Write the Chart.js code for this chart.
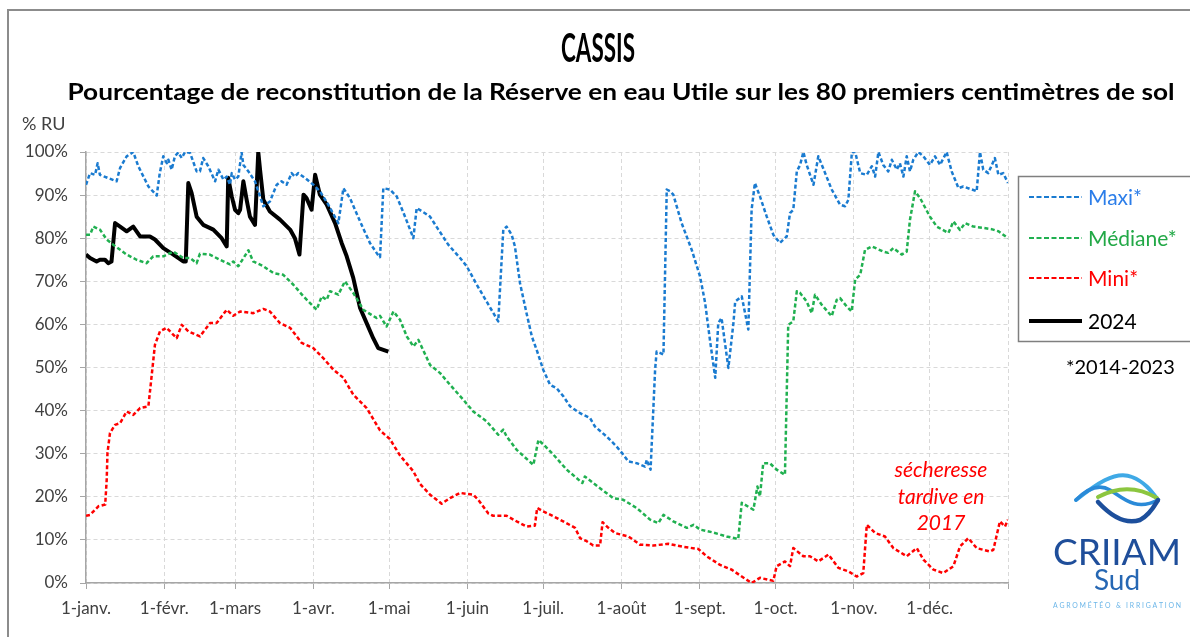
<!DOCTYPE html>
<html lang="fr">
<head>
<meta charset="utf-8">
<title>CASSIS - Réserve en eau Utile</title>
<script src="https://cdn.jsdelivr.net/npm/chart.js@4.4.1/dist/chart.umd.min.js"></script>
<style>
  html, body { margin: 0; padding: 0; background: #fff; }
  #wrap { width: 1190px; height: 637px; }
</style>
</head>
<body>
<div id="wrap"><canvas id="ruChart" width="1190" height="637"></canvas></div>
<script>
// Axes
const monthTicks = [0, 31, 59, 90, 120, 151, 181, 212, 243, 273, 304, 334, 365];
const monthLabels = ['1-janv.', '1-févr.', '1-mars', '1-avr.', '1-mai', '1-juin', '1-juil.', '1-août', '1-sept.', '1-oct.', '1-nov.', '1-déc.', ''];
const yTicks = [0, 10, 20, 30, 40, 50, 60, 70, 80, 90, 100];

// Séries : [jour de l'année, % RU]
const maxi = [[0,92.4],[1.6,95.1],[3.6,94.7],[4.6,97.4],[5.5,94.7],[12.1,93.2],[13.5,96.3],[16.1,99],[18.7,100],[20.7,96.7],[24.7,92],[28,89.9],[29.2,95.1],[30.6,99],[32,97.4],[32.6,98.2],[33.9,95.9],[35.2,99],[36.5,99.9],[37.9,98.6],[39.2,100],[41.2,99.8],[43.8,95.5],[45.1,95.5],[46.4,98.6],[48.4,96.7],[51.1,93.2],[52.4,95.9],[54.4,93.6],[55.7,94.3],[57,92.4],[57.7,95.1],[59,93.6],[60.3,94.3],[61.6,99.9],[62.3,97],[64.3,95.5],[66.9,93.2],[70.2,87.4],[72.8,88.5],[75.5,92.4],[77.4,93.2],[79.4,92.4],[81.4,95.1],[82.7,94.3],[84,95.1],[86.7,94],[90,92.4],[92.6,90.9],[95.9,87.8],[99.9,83.5],[101.9,91.6],[104.5,89.3],[106.5,86.6],[109.1,83.1],[112.4,78.9],[115.5,76.2],[116.4,75.6],[117.7,91.6],[120.3,91.3],[123,89.7],[126.3,85],[129.6,80],[130.9,87],[134.2,85.8],[136.2,85],[139.5,82],[143.4,78.5],[148.1,75.4],[150.7,73.5],[154.7,69.2],[158.6,65.3],[163.2,60.7],[165.2,82],[166.5,82.7],[168.5,80.8],[169.8,78.1],[171.8,69.6],[174.4,62.6],[176.5,57.2],[178.4,54.1],[181,49.5],[183.7,46],[186.3,45.2],[189,43.3],[191.6,41],[195.6,39.4],[199.5,38.3],[201.5,36.3],[206.1,34],[210,31.7],[212.7,29.8],[214.7,28.2],[218,27.8],[221.3,27],[222,28.6],[223.5,26.3],[225.3,49.5],[225.9,53.7],[227.2,53.4],[228.6,53],[229.9,91.3],[231.2,90.9],[232.5,90.1],[235.8,83.5],[239.8,77.3],[243.1,71.1],[245.1,65],[247,56.4],[249.1,47.6],[250.3,60.3],[251.6,61.5],[254.3,49.9],[256.3,60.3],[257,65.3],[259.6,66.5],[262.2,58.8],[263.5,86.6],[264.8,92.8],[266.8,89.7],[269.5,85],[272.1,80.8],[274.7,78.9],[277.4,80.4],[278.7,85.8],[280,86.6],[281.4,95.5],[282.7,97],[284,100],[285.3,97],[288,92.4],[289.9,99],[292.6,95.1],[295.2,91.3],[298.5,87.8],[300.5,87.4],[301.8,88.9],[303.2,100],[304.5,100],[306.5,95.1],[309.1,94.7],[311.1,96.7],[312.4,94.3],[313.7,100],[315.6,97],[317.6,95.5],[319,98.2],[321,95.9],[322.2,97.4],[323.6,94.3],[324.9,99],[326.2,95.5],[327.5,98.2],[329.5,100],[331.5,99],[334.1,97],[336.1,99],[338.1,97],[340.7,100],[342.7,95.5],[345.4,91.6],[347.3,92],[352.6,90.9],[353.9,100],[355.2,95.9],[357.2,95.1],[359.8,98.6],[361.2,94.7],[363.1,95.1],[365,92.8]];
const mediane = [[0,80.8],[1.6,80.8],[2.9,82.7],[5.5,82],[8.2,79.7],[10.8,78.5],[16.1,76.2],[20,75],[24,74.2],[26.6,75.8],[30.6,75.8],[34.6,76.9],[38.5,75.4],[41.2,75.4],[43.8,74.2],[45.1,76.4],[49,76.2],[53,75],[57,73.9],[58.3,74.6],[60.3,73.5],[64.3,77.2],[66.2,74.6],[70.2,73.5],[74.2,71.9],[78.1,71.5],[82.1,69.2],[86.1,66.5],[91.3,63.4],[93.3,66.5],[95.3,65.7],[96.6,67.7],[99.9,66.9],[102.5,70],[105.8,67.3],[109.8,63.4],[113,62.2],[115,61.5],[116.4,62],[119,59.5],[121.7,63],[124.3,61.1],[127,57.2],[129.6,54.9],[131.6,56.4],[136.2,50.6],[140.2,48.7],[144.1,46],[149.4,42.5],[153.3,39.8],[158.6,37.5],[163.2,34.4],[165.2,35.6],[166.5,34],[170.5,30.9],[177.1,27.4],[179.1,33.2],[181.5,31.9],[185,29.8],[190.3,26.3],[196.5,23.2],[197.5,24.7],[203,22.2],[208.7,19.7],[212.7,19.3],[218,17.4],[223.3,14.7],[226.6,13.9],[228.6,15.8],[232.5,14.3],[237.9,12.8],[240.5,13.5],[243.1,12.4],[248.4,11.7],[253.6,10.8],[258.2,10.2],[259.6,18.6],[264.2,17],[265.8,22.4],[266.8,20.1],[268.1,27.8],[270.7,27.8],[273.4,26.3],[276.7,25.1],[278,59.9],[280,60.7],[281.4,67.7],[282.7,67.3],[285.3,65.3],[287.3,62.6],[288.6,66.9],[291.2,64.6],[295.2,61.9],[297.2,65.7],[298.5,66.1],[301.1,64.2],[303.1,63],[304.5,70.4],[306.5,71.5],[308.4,77.3],[311.1,78.1],[315.6,76.9],[317.6,76.6],[319.6,77.7],[322.9,76.2],[324.9,76.9],[326.2,84.3],[328.2,90.9],[330.2,89.3],[334.1,85],[336.8,82.7],[341.4,81.2],[343.4,83.9],[346,81.9],[348,83.5],[351.3,82.7],[355.2,82.4],[358.5,82.1],[361.2,81.6],[365,80]];
const mini = [[0,15.6],[1.6,15.8],[4.9,17.8],[7.6,18.2],[8.2,24],[8.5,30.2],[9.5,34.8],[11.5,36.7],[13.5,37.1],[16.1,39.8],[18.7,39],[21.4,40.6],[24.7,41],[27.3,55.3],[29.3,58.4],[31.9,59.2],[35.9,56.8],[37.9,59.9],[40.5,58.4],[45.1,57.2],[49.1,60.3],[51.7,60.3],[55.7,63.4],[58.3,62],[61,63],[66.2,62.6],[70.2,63.6],[72.8,63],[76.8,60.3],[80.8,59.2],[85.4,55.7],[90,54.5],[93.9,52.2],[97.9,49.5],[101.9,47.6],[105.8,43.7],[111.1,40.6],[116.4,35.4],[120.3,33.4],[124.3,29.6],[129.6,25.9],[132.2,23],[136.2,20.5],[140.8,18.4],[144.1,19.7],[148.1,20.9],[153.3,20.5],[155.3,19.3],[159.3,16.1],[161.2,15.6],[166.5,15.6],[170.5,14.3],[174.4,13.1],[177.7,13.3],[178.6,17.4],[181,16.6],[185,15.5],[188.9,14.3],[193.6,12.8],[195.6,10.4],[198.2,9.7],[200.8,8.7],[203.5,8.7],[204.5,14.1],[206.8,12.8],[209.4,11.6],[214.7,10.8],[219.3,8.9],[224.6,8.7],[230.5,9.1],[236.5,8.4],[242.4,7.9],[245.7,6.2],[251,4.2],[255.6,3.1],[259.6,1.5],[263.5,0],[266.8,1.2],[272.1,0.5],[273.4,3.9],[276.7,5],[278.7,3.9],[280,8.1],[284,6.2],[286.6,6.2],[289.9,5],[293.9,6.6],[297.9,3.5],[301.8,2.7],[305.1,1.5],[307.7,2.3],[309.1,13.5],[312.4,11.6],[316.3,10.8],[319.6,8.1],[324.9,6.2],[328.9,8.1],[331.5,5.4],[335.5,3.1],[339.4,2.3],[343.4,3.9],[346,8.5],[349.3,10.4],[352.6,8.1],[357.9,7.3],[359.2,7.7],[361.8,14.3],[363.8,13.1],[365,14.7]];
const annee2024 = [[0,76.2],[1.6,75.4],[4.2,74.6],[5.5,75],[7.5,75],[8.8,74.2],[10.1,74.6],[11.5,83.5],[13.5,82.7],[16.1,81.6],[18.7,82.7],[21.4,80.4],[25.3,80.4],[27.3,79.7],[30.6,77.7],[34.6,76.2],[38.5,74.6],[39.5,74.6],[40.5,92.8],[41.8,90.5],[43.8,85],[46.4,83.1],[50.4,82],[53.7,80],[55.7,78.1],[56.3,94],[57.7,89.7],[59,86.6],[60.3,85.8],[61,86.6],[62.3,93.2],[63.6,88.9],[64.9,85],[66.9,83.1],[68.2,100],[68.9,95.9],[70.2,88.9],[72.8,86.2],[76.8,84.3],[80.8,82],[82.7,80],[84.5,76.2],[86.1,90.1],[87.3,89.3],[89.3,86.6],[90.7,94.7],[92.6,90.1],[95.3,87.8],[98.6,83.5],[101.2,78.9],[103.2,75.8],[105.8,70.8],[108.5,63.8],[111.1,60.3],[113.7,56.8],[115.7,54.5],[117.7,54.1],[119.7,53.7]];

const FONT = 'Lato, "Noto Sans", sans-serif';
const toPoints = arr => arr.map(p => ({ x: p[0], y: p[1] }));

// texte centré, ajusté à une largeur donnée (écrasement horizontal seulement)
function fitText(c, txt, cx, cy, font, width, color) {
    c.save();
    c.font = font;
    c.fillStyle = color;
    c.textAlign = 'center';
    c.textBaseline = 'middle';
    const k = width / c.measureText(txt).width;
    c.translate(cx, cy);
    c.scale(k, 1);
    c.fillText(txt, 0, 0);
    c.restore();
}

const decorPlugin = {
    id: 'decor',
    afterDraw(chart) {
        const c = chart.ctx;
        c.save();

        // cadre
        c.strokeStyle = '#8c8c8c';
        c.lineWidth = 2;
        c.beginPath();
        c.moveTo(8, 637); c.lineTo(8, 10); c.lineTo(1190, 10);
        c.stroke();

        // titres
        fitText(c, 'CASSIS', 598, 49, 'bold 40px ' + FONT, 74, '#000');
        fitText(c, 'Pourcentage de reconstitution de la Réserve en eau Utile sur les 80 premiers centimètres de sol',
            621, 93, 'bold 23px ' + FONT, 1107, '#000');

        c.font = '18px ' + FONT;
        c.fillStyle = '#404040';
        c.textAlign = 'left';
        c.textBaseline = 'middle';
        c.fillText('% RU', 22, 124);

        // légende
        c.strokeStyle = '#7f7f7f';
        c.lineWidth = 1.5;
        c.strokeRect(1018.5, 176.5, 200, 165);
        const rows = [197, 238, 278, 321];
        const textColors = ['#2b7de9', '#22a846', '#ff0000', '#000'];
        chart.data.datasets.forEach((ds, i) => {
            const y = rows[i];
            c.save();
            c.strokeStyle = ds.borderColor;
            c.lineWidth = i === 3 ? 4 : 2;
            c.setLineDash(i === 3 ? [] : [5, 2.5]);
            c.beginPath(); c.moveTo(1029, y); c.lineTo(1082, y); c.stroke();
            c.restore();
            c.font = '21px ' + FONT;
            c.fillStyle = textColors[i];
            c.textAlign = 'left';
            c.fillText(ds.label, 1088, y + 1);
        });
        c.font = '20px ' + FONT;
        c.fillStyle = '#000';
        c.fillText('*2014-2023', 1066, 368);

        // annotation
        c.font = 'italic 21px ' + FONT;
        c.fillStyle = '#ff0000';
        c.textAlign = 'center';
        c.fillText('sécheresse', 941, 470);
        c.fillText('tardive en', 941, 497);
        c.fillText('2017', 941, 523);

        // logo CRIIAM Sud
        c.lineCap = 'round';
        c.lineWidth = 4;
        c.strokeStyle = '#3fa9e6';
        c.beginPath(); c.moveTo(1076, 500);
        c.bezierCurveTo(1095, 485, 1115, 470, 1132, 477);
        c.bezierCurveTo(1145, 482, 1152, 492, 1158, 500); c.stroke();
        c.strokeStyle = '#2a8ad8';
        c.lineWidth = 3.5;
        c.beginPath(); c.moveTo(1076, 500);
        c.bezierCurveTo(1088, 488, 1100, 484, 1110, 490);
        c.bezierCurveTo(1122, 497, 1135, 512, 1158, 500); c.stroke();
        c.strokeStyle = '#8cc63f';
        c.lineWidth = 4;
        c.beginPath(); c.moveTo(1098, 497);
        c.bezierCurveTo(1115, 488, 1135, 485, 1157, 498); c.stroke();
        c.strokeStyle = '#1d4f9c';
        c.lineWidth = 4.5;
        c.beginPath(); c.moveTo(1098, 502);
        c.bezierCurveTo(1110, 515, 1125, 525, 1140, 520);
        c.bezierCurveTo(1150, 515, 1155, 505, 1158, 500); c.stroke();

        fitText(c, 'CRIIAM', 1117, 553, '36px ' + FONT, 128, '#1f4e9a');
        c.font = '28px ' + FONT;
        c.fillStyle = '#2667b3';
        c.textAlign = 'center';
        c.fillText('Sud', 1117, 581);
        fitText(c, 'A G R O M É T É O   &   I R R I G A T I O N', 1117, 605, '8px ' + FONT, 128, '#6cb6e8');

        c.restore();
    }
};

const gridColor = '#d9d9d9';
const axisColor = '#a6a6a6';
const tickFont = { family: FONT, size: 17 };

new Chart(document.getElementById('ruChart'), {
    type: 'line',
    data: {
        datasets: [
            { label: 'Maxi*', data: toPoints(maxi), borderColor: '#1a7bd0', borderWidth: 2.5, borderDash: [4, 2.5] },
            { label: 'Médiane*', data: toPoints(mediane), borderColor: '#20b050', borderWidth: 2.5, borderDash: [4, 2.5] },
            { label: 'Mini*', data: toPoints(mini), borderColor: '#ff0000', borderWidth: 2.5, borderDash: [4, 2.5] },
            { label: '2024', data: toPoints(annee2024), borderColor: '#000000', borderWidth: 4 }
        ]
    },
    options: {
        responsive: false,
        animation: false,
        devicePixelRatio: 1,
        elements: { point: { radius: 0 }, line: { tension: 0, borderJoinStyle: 'round' } },
        layout: { padding: { left: 0, top: 152, right: 182, bottom: 0 } },
        plugins: { legend: { display: false }, tooltip: { enabled: false } },
        scales: {
            x: {
                type: 'linear',
                min: 0,
                max: 365,
                afterBuildTicks: s => { s.ticks = monthTicks.map(v => ({ value: v })); },
                afterFit: s => { s.height = 54; },
                ticks: {
                    autoSkip: false,
                    maxRotation: 0,
                    padding: 9,
                    color: '#404040',
                    font: tickFont,
                    callback: v => monthLabels[monthTicks.indexOf(v)] ?? ''
                },
                grid: { color: gridColor, tickColor: axisColor, tickLength: 6 },
                border: { color: axisColor, width: 1.5, dash: [4, 3] }
            },
            y: {
                min: 0,
                max: 100,
                afterBuildTicks: s => { s.ticks = yTicks.map(v => ({ value: v })); },
                afterFit: s => { s.width = 86; },
                ticks: {
                    padding: 12,
                    color: '#404040',
                    font: tickFont,
                    callback: v => v + '%'
                },
                grid: { color: gridColor, tickColor: axisColor, tickLength: 6 },
                border: { color: axisColor, width: 1.5, dash: [4, 3] }
            }
        }
    },
    plugins: [decorPlugin]
});
</script>
</body>
</html>
